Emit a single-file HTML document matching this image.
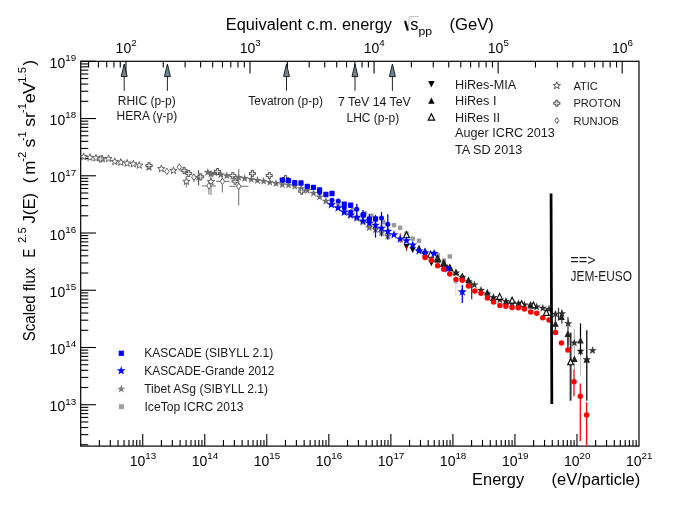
<!DOCTYPE html>
<html><head><meta charset="utf-8"><title>Cosmic ray spectrum</title>
<style>html,body{margin:0;padding:0;background:#fff;}body{width:673px;height:507px;overflow:hidden;font-family:"Liberation Sans",sans-serif;}svg{display:block;will-change:transform;}</style></head>
<body>
<svg width="673" height="507" viewBox="0 0 673 507" font-family="Liberation Sans, sans-serif">
<rect x="0" y="0" width="673" height="507" fill="#fff"/>
<rect x="80.7" y="61.3" width="558.3" height="384.8" fill="none" stroke="#000" stroke-width="1.2"/>
<line x1="99.37" y1="446.1" x2="99.37" y2="439.9" stroke="#000" stroke-width="1.1" />
<line x1="110.3" y1="446.1" x2="110.3" y2="439.9" stroke="#000" stroke-width="1.1" />
<line x1="118.05" y1="446.1" x2="118.05" y2="439.9" stroke="#000" stroke-width="1.1" />
<line x1="124.06" y1="446.1" x2="124.06" y2="439.9" stroke="#000" stroke-width="1.1" />
<line x1="128.97" y1="446.1" x2="128.97" y2="439.9" stroke="#000" stroke-width="1.1" />
<line x1="133.12" y1="446.1" x2="133.12" y2="439.9" stroke="#000" stroke-width="1.1" />
<line x1="136.72" y1="446.1" x2="136.72" y2="439.9" stroke="#000" stroke-width="1.1" />
<line x1="139.89" y1="446.1" x2="139.89" y2="439.9" stroke="#000" stroke-width="1.1" />
<line x1="142.73" y1="446.1" x2="142.73" y2="433.9" stroke="#000" stroke-width="1.1" />
<line x1="161.41" y1="446.1" x2="161.41" y2="439.9" stroke="#000" stroke-width="1.1" />
<line x1="172.33" y1="446.1" x2="172.33" y2="439.9" stroke="#000" stroke-width="1.1" />
<line x1="180.08" y1="446.1" x2="180.08" y2="439.9" stroke="#000" stroke-width="1.1" />
<line x1="186.09" y1="446.1" x2="186.09" y2="439.9" stroke="#000" stroke-width="1.1" />
<line x1="191" y1="446.1" x2="191" y2="439.9" stroke="#000" stroke-width="1.1" />
<line x1="195.16" y1="446.1" x2="195.16" y2="439.9" stroke="#000" stroke-width="1.1" />
<line x1="198.76" y1="446.1" x2="198.76" y2="439.9" stroke="#000" stroke-width="1.1" />
<line x1="201.93" y1="446.1" x2="201.93" y2="439.9" stroke="#000" stroke-width="1.1" />
<line x1="204.77" y1="446.1" x2="204.77" y2="433.9" stroke="#000" stroke-width="1.1" />
<line x1="223.44" y1="446.1" x2="223.44" y2="439.9" stroke="#000" stroke-width="1.1" />
<line x1="234.36" y1="446.1" x2="234.36" y2="439.9" stroke="#000" stroke-width="1.1" />
<line x1="242.11" y1="446.1" x2="242.11" y2="439.9" stroke="#000" stroke-width="1.1" />
<line x1="248.13" y1="446.1" x2="248.13" y2="439.9" stroke="#000" stroke-width="1.1" />
<line x1="253.04" y1="446.1" x2="253.04" y2="439.9" stroke="#000" stroke-width="1.1" />
<line x1="257.19" y1="446.1" x2="257.19" y2="439.9" stroke="#000" stroke-width="1.1" />
<line x1="260.79" y1="446.1" x2="260.79" y2="439.9" stroke="#000" stroke-width="1.1" />
<line x1="263.96" y1="446.1" x2="263.96" y2="439.9" stroke="#000" stroke-width="1.1" />
<line x1="266.8" y1="446.1" x2="266.8" y2="433.9" stroke="#000" stroke-width="1.1" />
<line x1="285.47" y1="446.1" x2="285.47" y2="439.9" stroke="#000" stroke-width="1.1" />
<line x1="296.4" y1="446.1" x2="296.4" y2="439.9" stroke="#000" stroke-width="1.1" />
<line x1="304.15" y1="446.1" x2="304.15" y2="439.9" stroke="#000" stroke-width="1.1" />
<line x1="310.16" y1="446.1" x2="310.16" y2="439.9" stroke="#000" stroke-width="1.1" />
<line x1="315.07" y1="446.1" x2="315.07" y2="439.9" stroke="#000" stroke-width="1.1" />
<line x1="319.22" y1="446.1" x2="319.22" y2="439.9" stroke="#000" stroke-width="1.1" />
<line x1="322.82" y1="446.1" x2="322.82" y2="439.9" stroke="#000" stroke-width="1.1" />
<line x1="325.99" y1="446.1" x2="325.99" y2="439.9" stroke="#000" stroke-width="1.1" />
<line x1="328.83" y1="446.1" x2="328.83" y2="433.9" stroke="#000" stroke-width="1.1" />
<line x1="347.51" y1="446.1" x2="347.51" y2="439.9" stroke="#000" stroke-width="1.1" />
<line x1="358.43" y1="446.1" x2="358.43" y2="439.9" stroke="#000" stroke-width="1.1" />
<line x1="366.18" y1="446.1" x2="366.18" y2="439.9" stroke="#000" stroke-width="1.1" />
<line x1="372.19" y1="446.1" x2="372.19" y2="439.9" stroke="#000" stroke-width="1.1" />
<line x1="377.1" y1="446.1" x2="377.1" y2="439.9" stroke="#000" stroke-width="1.1" />
<line x1="381.26" y1="446.1" x2="381.26" y2="439.9" stroke="#000" stroke-width="1.1" />
<line x1="384.86" y1="446.1" x2="384.86" y2="439.9" stroke="#000" stroke-width="1.1" />
<line x1="388.03" y1="446.1" x2="388.03" y2="439.9" stroke="#000" stroke-width="1.1" />
<line x1="390.87" y1="446.1" x2="390.87" y2="433.9" stroke="#000" stroke-width="1.1" />
<line x1="409.54" y1="446.1" x2="409.54" y2="439.9" stroke="#000" stroke-width="1.1" />
<line x1="420.46" y1="446.1" x2="420.46" y2="439.9" stroke="#000" stroke-width="1.1" />
<line x1="428.21" y1="446.1" x2="428.21" y2="439.9" stroke="#000" stroke-width="1.1" />
<line x1="434.23" y1="446.1" x2="434.23" y2="439.9" stroke="#000" stroke-width="1.1" />
<line x1="439.14" y1="446.1" x2="439.14" y2="439.9" stroke="#000" stroke-width="1.1" />
<line x1="443.29" y1="446.1" x2="443.29" y2="439.9" stroke="#000" stroke-width="1.1" />
<line x1="446.89" y1="446.1" x2="446.89" y2="439.9" stroke="#000" stroke-width="1.1" />
<line x1="450.06" y1="446.1" x2="450.06" y2="439.9" stroke="#000" stroke-width="1.1" />
<line x1="452.9" y1="446.1" x2="452.9" y2="433.9" stroke="#000" stroke-width="1.1" />
<line x1="471.57" y1="446.1" x2="471.57" y2="439.9" stroke="#000" stroke-width="1.1" />
<line x1="482.5" y1="446.1" x2="482.5" y2="439.9" stroke="#000" stroke-width="1.1" />
<line x1="490.25" y1="446.1" x2="490.25" y2="439.9" stroke="#000" stroke-width="1.1" />
<line x1="496.26" y1="446.1" x2="496.26" y2="439.9" stroke="#000" stroke-width="1.1" />
<line x1="501.17" y1="446.1" x2="501.17" y2="439.9" stroke="#000" stroke-width="1.1" />
<line x1="505.32" y1="446.1" x2="505.32" y2="439.9" stroke="#000" stroke-width="1.1" />
<line x1="508.92" y1="446.1" x2="508.92" y2="439.9" stroke="#000" stroke-width="1.1" />
<line x1="512.09" y1="446.1" x2="512.09" y2="439.9" stroke="#000" stroke-width="1.1" />
<line x1="514.93" y1="446.1" x2="514.93" y2="433.9" stroke="#000" stroke-width="1.1" />
<line x1="533.61" y1="446.1" x2="533.61" y2="439.9" stroke="#000" stroke-width="1.1" />
<line x1="544.53" y1="446.1" x2="544.53" y2="439.9" stroke="#000" stroke-width="1.1" />
<line x1="552.28" y1="446.1" x2="552.28" y2="439.9" stroke="#000" stroke-width="1.1" />
<line x1="558.29" y1="446.1" x2="558.29" y2="439.9" stroke="#000" stroke-width="1.1" />
<line x1="563.2" y1="446.1" x2="563.2" y2="439.9" stroke="#000" stroke-width="1.1" />
<line x1="567.36" y1="446.1" x2="567.36" y2="439.9" stroke="#000" stroke-width="1.1" />
<line x1="570.96" y1="446.1" x2="570.96" y2="439.9" stroke="#000" stroke-width="1.1" />
<line x1="574.13" y1="446.1" x2="574.13" y2="439.9" stroke="#000" stroke-width="1.1" />
<line x1="576.97" y1="446.1" x2="576.97" y2="433.9" stroke="#000" stroke-width="1.1" />
<line x1="595.64" y1="446.1" x2="595.64" y2="439.9" stroke="#000" stroke-width="1.1" />
<line x1="606.56" y1="446.1" x2="606.56" y2="439.9" stroke="#000" stroke-width="1.1" />
<line x1="614.31" y1="446.1" x2="614.31" y2="439.9" stroke="#000" stroke-width="1.1" />
<line x1="620.33" y1="446.1" x2="620.33" y2="439.9" stroke="#000" stroke-width="1.1" />
<line x1="625.24" y1="446.1" x2="625.24" y2="439.9" stroke="#000" stroke-width="1.1" />
<line x1="629.39" y1="446.1" x2="629.39" y2="439.9" stroke="#000" stroke-width="1.1" />
<line x1="632.99" y1="446.1" x2="632.99" y2="439.9" stroke="#000" stroke-width="1.1" />
<line x1="636.16" y1="446.1" x2="636.16" y2="439.9" stroke="#000" stroke-width="1.1" />
<line x1="80.7" y1="444.75" x2="88.3" y2="444.75" stroke="#000" stroke-width="1.1" />
<line x1="80.7" y1="434.67" x2="88.3" y2="434.67" stroke="#000" stroke-width="1.1" />
<line x1="80.7" y1="427.52" x2="88.3" y2="427.52" stroke="#000" stroke-width="1.1" />
<line x1="80.7" y1="421.97" x2="88.3" y2="421.97" stroke="#000" stroke-width="1.1" />
<line x1="80.7" y1="417.44" x2="88.3" y2="417.44" stroke="#000" stroke-width="1.1" />
<line x1="80.7" y1="413.61" x2="88.3" y2="413.61" stroke="#000" stroke-width="1.1" />
<line x1="80.7" y1="410.29" x2="88.3" y2="410.29" stroke="#000" stroke-width="1.1" />
<line x1="80.7" y1="407.36" x2="88.3" y2="407.36" stroke="#000" stroke-width="1.1" />
<line x1="80.7" y1="404.74" x2="96" y2="404.74" stroke="#000" stroke-width="1.1" />
<line x1="80.7" y1="387.51" x2="88.3" y2="387.51" stroke="#000" stroke-width="1.1" />
<line x1="80.7" y1="377.43" x2="88.3" y2="377.43" stroke="#000" stroke-width="1.1" />
<line x1="80.7" y1="370.28" x2="88.3" y2="370.28" stroke="#000" stroke-width="1.1" />
<line x1="80.7" y1="364.73" x2="88.3" y2="364.73" stroke="#000" stroke-width="1.1" />
<line x1="80.7" y1="360.2" x2="88.3" y2="360.2" stroke="#000" stroke-width="1.1" />
<line x1="80.7" y1="356.37" x2="88.3" y2="356.37" stroke="#000" stroke-width="1.1" />
<line x1="80.7" y1="353.05" x2="88.3" y2="353.05" stroke="#000" stroke-width="1.1" />
<line x1="80.7" y1="350.12" x2="88.3" y2="350.12" stroke="#000" stroke-width="1.1" />
<line x1="80.7" y1="347.5" x2="96" y2="347.5" stroke="#000" stroke-width="1.1" />
<line x1="80.7" y1="330.27" x2="88.3" y2="330.27" stroke="#000" stroke-width="1.1" />
<line x1="80.7" y1="320.19" x2="88.3" y2="320.19" stroke="#000" stroke-width="1.1" />
<line x1="80.7" y1="313.04" x2="88.3" y2="313.04" stroke="#000" stroke-width="1.1" />
<line x1="80.7" y1="307.49" x2="88.3" y2="307.49" stroke="#000" stroke-width="1.1" />
<line x1="80.7" y1="302.96" x2="88.3" y2="302.96" stroke="#000" stroke-width="1.1" />
<line x1="80.7" y1="299.13" x2="88.3" y2="299.13" stroke="#000" stroke-width="1.1" />
<line x1="80.7" y1="295.81" x2="88.3" y2="295.81" stroke="#000" stroke-width="1.1" />
<line x1="80.7" y1="292.88" x2="88.3" y2="292.88" stroke="#000" stroke-width="1.1" />
<line x1="80.7" y1="290.26" x2="96" y2="290.26" stroke="#000" stroke-width="1.1" />
<line x1="80.7" y1="273.03" x2="88.3" y2="273.03" stroke="#000" stroke-width="1.1" />
<line x1="80.7" y1="262.95" x2="88.3" y2="262.95" stroke="#000" stroke-width="1.1" />
<line x1="80.7" y1="255.8" x2="88.3" y2="255.8" stroke="#000" stroke-width="1.1" />
<line x1="80.7" y1="250.25" x2="88.3" y2="250.25" stroke="#000" stroke-width="1.1" />
<line x1="80.7" y1="245.72" x2="88.3" y2="245.72" stroke="#000" stroke-width="1.1" />
<line x1="80.7" y1="241.89" x2="88.3" y2="241.89" stroke="#000" stroke-width="1.1" />
<line x1="80.7" y1="238.57" x2="88.3" y2="238.57" stroke="#000" stroke-width="1.1" />
<line x1="80.7" y1="235.64" x2="88.3" y2="235.64" stroke="#000" stroke-width="1.1" />
<line x1="80.7" y1="233.02" x2="96" y2="233.02" stroke="#000" stroke-width="1.1" />
<line x1="80.7" y1="215.79" x2="88.3" y2="215.79" stroke="#000" stroke-width="1.1" />
<line x1="80.7" y1="205.71" x2="88.3" y2="205.71" stroke="#000" stroke-width="1.1" />
<line x1="80.7" y1="198.56" x2="88.3" y2="198.56" stroke="#000" stroke-width="1.1" />
<line x1="80.7" y1="193.01" x2="88.3" y2="193.01" stroke="#000" stroke-width="1.1" />
<line x1="80.7" y1="188.48" x2="88.3" y2="188.48" stroke="#000" stroke-width="1.1" />
<line x1="80.7" y1="184.65" x2="88.3" y2="184.65" stroke="#000" stroke-width="1.1" />
<line x1="80.7" y1="181.33" x2="88.3" y2="181.33" stroke="#000" stroke-width="1.1" />
<line x1="80.7" y1="178.4" x2="88.3" y2="178.4" stroke="#000" stroke-width="1.1" />
<line x1="80.7" y1="175.78" x2="96" y2="175.78" stroke="#000" stroke-width="1.1" />
<line x1="80.7" y1="158.55" x2="88.3" y2="158.55" stroke="#000" stroke-width="1.1" />
<line x1="80.7" y1="148.47" x2="88.3" y2="148.47" stroke="#000" stroke-width="1.1" />
<line x1="80.7" y1="141.32" x2="88.3" y2="141.32" stroke="#000" stroke-width="1.1" />
<line x1="80.7" y1="135.77" x2="88.3" y2="135.77" stroke="#000" stroke-width="1.1" />
<line x1="80.7" y1="131.24" x2="88.3" y2="131.24" stroke="#000" stroke-width="1.1" />
<line x1="80.7" y1="127.41" x2="88.3" y2="127.41" stroke="#000" stroke-width="1.1" />
<line x1="80.7" y1="124.09" x2="88.3" y2="124.09" stroke="#000" stroke-width="1.1" />
<line x1="80.7" y1="121.16" x2="88.3" y2="121.16" stroke="#000" stroke-width="1.1" />
<line x1="80.7" y1="118.54" x2="96" y2="118.54" stroke="#000" stroke-width="1.1" />
<line x1="80.7" y1="101.31" x2="88.3" y2="101.31" stroke="#000" stroke-width="1.1" />
<line x1="80.7" y1="91.23" x2="88.3" y2="91.23" stroke="#000" stroke-width="1.1" />
<line x1="80.7" y1="84.08" x2="88.3" y2="84.08" stroke="#000" stroke-width="1.1" />
<line x1="80.7" y1="78.53" x2="88.3" y2="78.53" stroke="#000" stroke-width="1.1" />
<line x1="80.7" y1="74" x2="88.3" y2="74" stroke="#000" stroke-width="1.1" />
<line x1="80.7" y1="70.17" x2="88.3" y2="70.17" stroke="#000" stroke-width="1.1" />
<line x1="80.7" y1="66.85" x2="88.3" y2="66.85" stroke="#000" stroke-width="1.1" />
<line x1="80.7" y1="63.92" x2="88.3" y2="63.92" stroke="#000" stroke-width="1.1" />
<line x1="80.7" y1="61.3" x2="96" y2="61.3" stroke="#000" stroke-width="1.1" />
<line x1="88.59" y1="61.3" x2="88.59" y2="67.5" stroke="#000" stroke-width="1.1" />
<line x1="98.41" y1="61.3" x2="98.41" y2="67.5" stroke="#000" stroke-width="1.1" />
<line x1="106.72" y1="61.3" x2="106.72" y2="67.5" stroke="#000" stroke-width="1.1" />
<line x1="113.91" y1="61.3" x2="113.91" y2="67.5" stroke="#000" stroke-width="1.1" />
<line x1="120.26" y1="61.3" x2="120.26" y2="67.5" stroke="#000" stroke-width="1.1" />
<line x1="125.93" y1="61.3" x2="125.93" y2="73.5" stroke="#000" stroke-width="1.1" />
<line x1="163.28" y1="61.3" x2="163.28" y2="67.5" stroke="#000" stroke-width="1.1" />
<line x1="185.13" y1="61.3" x2="185.13" y2="67.5" stroke="#000" stroke-width="1.1" />
<line x1="200.63" y1="61.3" x2="200.63" y2="67.5" stroke="#000" stroke-width="1.1" />
<line x1="212.65" y1="61.3" x2="212.65" y2="67.5" stroke="#000" stroke-width="1.1" />
<line x1="222.48" y1="61.3" x2="222.48" y2="67.5" stroke="#000" stroke-width="1.1" />
<line x1="230.78" y1="61.3" x2="230.78" y2="67.5" stroke="#000" stroke-width="1.1" />
<line x1="237.98" y1="61.3" x2="237.98" y2="67.5" stroke="#000" stroke-width="1.1" />
<line x1="244.32" y1="61.3" x2="244.32" y2="67.5" stroke="#000" stroke-width="1.1" />
<line x1="250" y1="61.3" x2="250" y2="73.5" stroke="#000" stroke-width="1.1" />
<line x1="287.35" y1="61.3" x2="287.35" y2="67.5" stroke="#000" stroke-width="1.1" />
<line x1="309.19" y1="61.3" x2="309.19" y2="67.5" stroke="#000" stroke-width="1.1" />
<line x1="324.7" y1="61.3" x2="324.7" y2="67.5" stroke="#000" stroke-width="1.1" />
<line x1="336.72" y1="61.3" x2="336.72" y2="67.5" stroke="#000" stroke-width="1.1" />
<line x1="346.54" y1="61.3" x2="346.54" y2="67.5" stroke="#000" stroke-width="1.1" />
<line x1="354.85" y1="61.3" x2="354.85" y2="67.5" stroke="#000" stroke-width="1.1" />
<line x1="362.04" y1="61.3" x2="362.04" y2="67.5" stroke="#000" stroke-width="1.1" />
<line x1="368.39" y1="61.3" x2="368.39" y2="67.5" stroke="#000" stroke-width="1.1" />
<line x1="374.07" y1="61.3" x2="374.07" y2="73.5" stroke="#000" stroke-width="1.1" />
<line x1="411.41" y1="61.3" x2="411.41" y2="67.5" stroke="#000" stroke-width="1.1" />
<line x1="433.26" y1="61.3" x2="433.26" y2="67.5" stroke="#000" stroke-width="1.1" />
<line x1="448.76" y1="61.3" x2="448.76" y2="67.5" stroke="#000" stroke-width="1.1" />
<line x1="460.79" y1="61.3" x2="460.79" y2="67.5" stroke="#000" stroke-width="1.1" />
<line x1="470.61" y1="61.3" x2="470.61" y2="67.5" stroke="#000" stroke-width="1.1" />
<line x1="478.92" y1="61.3" x2="478.92" y2="67.5" stroke="#000" stroke-width="1.1" />
<line x1="486.11" y1="61.3" x2="486.11" y2="67.5" stroke="#000" stroke-width="1.1" />
<line x1="492.46" y1="61.3" x2="492.46" y2="67.5" stroke="#000" stroke-width="1.1" />
<line x1="498.13" y1="61.3" x2="498.13" y2="73.5" stroke="#000" stroke-width="1.1" />
<line x1="535.48" y1="61.3" x2="535.48" y2="67.5" stroke="#000" stroke-width="1.1" />
<line x1="557.33" y1="61.3" x2="557.33" y2="67.5" stroke="#000" stroke-width="1.1" />
<line x1="572.83" y1="61.3" x2="572.83" y2="67.5" stroke="#000" stroke-width="1.1" />
<line x1="584.85" y1="61.3" x2="584.85" y2="67.5" stroke="#000" stroke-width="1.1" />
<line x1="594.68" y1="61.3" x2="594.68" y2="67.5" stroke="#000" stroke-width="1.1" />
<line x1="602.98" y1="61.3" x2="602.98" y2="67.5" stroke="#000" stroke-width="1.1" />
<line x1="610.18" y1="61.3" x2="610.18" y2="67.5" stroke="#000" stroke-width="1.1" />
<line x1="616.52" y1="61.3" x2="616.52" y2="67.5" stroke="#000" stroke-width="1.1" />
<line x1="622.2" y1="61.3" x2="622.2" y2="73.5" stroke="#000" stroke-width="1.1" />
<line x1="186.4" y1="176" x2="186.4" y2="187.2" stroke="#6e6e6e" stroke-width="0.9" />
<line x1="211" y1="176.5" x2="211" y2="195.2" stroke="#6e6e6e" stroke-width="0.9" />
<polygon points="83.7,152.9 84.59,155.47 87.31,155.53 85.15,157.17 85.93,159.78 83.7,158.22 81.47,159.78 82.25,157.17 80.09,155.53 82.81,155.47" fill="#fff" stroke="#5c5c5c" stroke-width="0.95"/>
<polygon points="90,153.7 90.89,156.27 93.61,156.33 91.45,157.97 92.23,160.58 90,159.02 87.77,160.58 88.55,157.97 86.39,156.33 89.11,156.27" fill="#fff" stroke="#5c5c5c" stroke-width="0.95"/>
<polygon points="96,154.3 96.89,156.87 99.61,156.93 97.45,158.57 98.23,161.18 96,159.62 93.77,161.18 94.55,158.57 92.39,156.93 95.11,156.87" fill="#fff" stroke="#5c5c5c" stroke-width="0.95"/>
<polygon points="102.3,155.1 103.19,157.67 105.91,157.73 103.75,159.37 104.53,161.98 102.3,160.42 100.07,161.98 100.85,159.37 98.69,157.73 101.41,157.67" fill="#fff" stroke="#5c5c5c" stroke-width="0.95"/>
<polygon points="108.5,154.9 109.39,157.47 112.11,157.53 109.95,159.17 110.73,161.78 108.5,160.22 106.27,161.78 107.05,159.17 104.89,157.53 107.61,157.47" fill="#fff" stroke="#5c5c5c" stroke-width="0.95"/>
<polygon points="114.8,157.8 115.69,160.37 118.41,160.43 116.25,162.07 117.03,164.68 114.8,163.12 112.57,164.68 113.35,162.07 111.19,160.43 113.91,160.37" fill="#fff" stroke="#5c5c5c" stroke-width="0.95"/>
<polygon points="120.8,158.6 121.69,161.17 124.41,161.23 122.25,162.87 123.03,165.48 120.8,163.92 118.57,165.48 119.35,162.87 117.19,161.23 119.91,161.17" fill="#fff" stroke="#5c5c5c" stroke-width="0.95"/>
<polygon points="127.1,159.5 127.99,162.07 130.71,162.13 128.55,163.77 129.33,166.38 127.1,164.82 124.87,166.38 125.65,163.77 123.49,162.13 126.21,162.07" fill="#fff" stroke="#5c5c5c" stroke-width="0.95"/>
<polygon points="133.3,160.2 134.19,162.77 136.91,162.83 134.75,164.47 135.53,167.08 133.3,165.52 131.07,167.08 131.85,164.47 129.69,162.83 132.41,162.77" fill="#fff" stroke="#5c5c5c" stroke-width="0.95"/>
<polygon points="139.3,161.5 140.19,164.07 142.91,164.13 140.75,165.77 141.53,168.38 139.3,166.82 137.07,168.38 137.85,165.77 135.69,164.13 138.41,164.07" fill="#fff" stroke="#5c5c5c" stroke-width="0.95"/>
<polygon points="149,163.4 149.89,165.97 152.61,166.03 150.45,167.67 151.23,170.28 149,168.72 146.77,170.28 147.55,167.67 145.39,166.03 148.11,165.97" fill="#fff" stroke="#5c5c5c" stroke-width="0.95"/>
<polygon points="161.3,165 162.19,167.57 164.91,167.63 162.75,169.27 163.53,171.88 161.3,170.32 159.07,171.88 159.85,169.27 157.69,167.63 160.41,167.57" fill="#fff" stroke="#5c5c5c" stroke-width="0.95"/>
<polygon points="173.4,166.8 174.29,169.37 177.01,169.43 174.85,171.07 175.63,173.68 173.4,172.12 171.17,173.68 171.95,171.07 169.79,169.43 172.51,169.37" fill="#fff" stroke="#5c5c5c" stroke-width="0.95"/>
<polygon points="186.4,177.7 187.29,180.27 190.01,180.33 187.85,181.97 188.63,184.58 186.4,183.02 184.17,184.58 184.95,181.97 182.79,180.33 185.51,180.27" fill="#fff" stroke="#5c5c5c" stroke-width="0.95"/>
<polygon points="211,177.9 211.89,180.47 214.61,180.53 212.45,182.17 213.23,184.78 211,183.22 208.77,184.78 209.55,182.17 207.39,180.53 210.11,180.47" fill="#fff" stroke="#5c5c5c" stroke-width="0.95"/>
<polygon points="166.8,168.1 169,171.4 166.8,174.7 164.6,171.4" fill="#fff" stroke="#5c5c5c" stroke-width="0.95"/>
<polygon points="179.3,163.8 181.5,167.1 179.3,170.4 177.1,167.1" fill="#fff" stroke="#5c5c5c" stroke-width="0.95"/>
<line x1="193.9" y1="174" x2="193.9" y2="182.1" stroke="#858585" stroke-width="1.2" />
<polygon points="193.9,173.9 196.1,177.2 193.9,180.5 191.7,177.2" fill="#fff" stroke="#5c5c5c" stroke-width="0.95"/>
<line x1="202.1" y1="185.9" x2="215.9" y2="185.9" stroke="#858585" stroke-width="1.2" />
<line x1="208.9" y1="182.1" x2="208.9" y2="194.6" stroke="#858585" stroke-width="1.2" />
<polygon points="208.9,182.6 211.1,185.9 208.9,189.2 206.7,185.9" fill="#fff" stroke="#5c5c5c" stroke-width="0.95"/>
<line x1="215.9" y1="181.4" x2="229.5" y2="181.4" stroke="#858585" stroke-width="1.2" />
<line x1="222.4" y1="175.6" x2="222.4" y2="192.4" stroke="#858585" stroke-width="1.2" />
<polygon points="222.4,178.1 224.6,181.4 222.4,184.7 220.2,181.4" fill="#fff" stroke="#5c5c5c" stroke-width="0.95"/>
<line x1="229.5" y1="186.3" x2="248.5" y2="186.3" stroke="#858585" stroke-width="1.2" />
<line x1="238.7" y1="169.1" x2="238.7" y2="205.5" stroke="#858585" stroke-width="1.2" />
<polygon points="238.7,183 240.9,186.3 238.7,189.6 236.5,186.3" fill="#fff" stroke="#5c5c5c" stroke-width="0.95"/>
<line x1="198.6" y1="170.2" x2="198.6" y2="185.2" stroke="#222" stroke-width="0.9" />
<polygon points="198.6,172.95 199.63,175.93 202.78,175.99 200.27,177.9 201.19,180.91 198.6,179.11 196.01,180.91 196.93,177.9 194.42,175.99 197.57,175.93" fill="#6e6e6e" stroke="none" stroke-width="0.8"/>
<polygon points="207.8,168.05 208.83,171.03 211.98,171.09 209.47,173 210.39,176.01 207.8,174.21 205.21,176.01 206.13,173 203.62,171.09 206.77,171.03" fill="#6e6e6e" stroke="none" stroke-width="0.8"/>
<polygon points="211,169.75 212.03,172.73 215.18,172.79 212.67,174.7 213.59,177.71 211,175.91 208.41,177.71 209.33,174.7 206.82,172.79 209.97,172.73" fill="#6e6e6e" stroke="none" stroke-width="0.8"/>
<polygon points="214.8,168.65 215.83,171.63 218.98,171.69 216.47,173.6 217.39,176.61 214.8,174.81 212.21,176.61 213.13,173.6 210.62,171.69 213.77,171.63" fill="#6e6e6e" stroke="none" stroke-width="0.8"/>
<polygon points="220.8,170.25 221.83,173.23 224.98,173.29 222.47,175.2 223.39,178.21 220.8,176.41 218.21,178.21 219.13,175.2 216.62,173.29 219.77,173.23" fill="#6e6e6e" stroke="none" stroke-width="0.8"/>
<polygon points="226.8,171.35 227.83,174.33 230.98,174.39 228.47,176.3 229.39,179.31 226.8,177.51 224.21,179.31 225.13,176.3 222.62,174.39 225.77,174.33" fill="#6e6e6e" stroke="none" stroke-width="0.8"/>
<polygon points="232.8,171.85 233.83,174.83 236.98,174.89 234.47,176.8 235.39,179.81 232.8,178.01 230.21,179.81 231.13,176.8 228.62,174.89 231.77,174.83" fill="#6e6e6e" stroke="none" stroke-width="0.8"/>
<polygon points="238.7,172.95 239.73,175.93 242.88,175.99 240.37,177.9 241.29,180.91 238.7,179.11 236.11,180.91 237.03,177.9 234.52,175.99 237.67,175.93" fill="#6e6e6e" stroke="none" stroke-width="0.8"/>
<polygon points="244.7,174.05 245.73,177.03 248.88,177.09 246.37,179 247.29,182.01 244.7,180.21 242.11,182.01 243.03,179 240.52,177.09 243.67,177.03" fill="#6e6e6e" stroke="none" stroke-width="0.8"/>
<polygon points="251.3,174.95 252.33,177.93 255.48,177.99 252.97,179.9 253.89,182.91 251.3,181.11 248.71,182.91 249.63,179.9 247.12,177.99 250.27,177.93" fill="#6e6e6e" stroke="none" stroke-width="0.8"/>
<polygon points="257.4,176.05 258.43,179.03 261.58,179.09 259.07,181 259.99,184.01 257.4,182.21 254.81,184.01 255.73,181 253.22,179.09 256.37,179.03" fill="#6e6e6e" stroke="none" stroke-width="0.8"/>
<polygon points="263.6,176.85 264.63,179.83 267.78,179.89 265.27,181.8 266.19,184.81 263.6,183.01 261.01,184.81 261.93,181.8 259.42,179.89 262.57,179.83" fill="#6e6e6e" stroke="none" stroke-width="0.8"/>
<polygon points="269.8,177.95 270.83,180.93 273.98,180.99 271.47,182.9 272.39,185.91 269.8,184.11 267.21,185.91 268.13,182.9 265.62,180.99 268.77,180.93" fill="#6e6e6e" stroke="none" stroke-width="0.8"/>
<polygon points="276,179.05 277.03,182.03 280.18,182.09 277.67,184 278.59,187.01 276,185.21 273.41,187.01 274.33,184 271.82,182.09 274.97,182.03" fill="#6e6e6e" stroke="none" stroke-width="0.8"/>
<polygon points="282.3,180.35 283.33,183.33 286.48,183.39 283.97,185.3 284.89,188.31 282.3,186.51 279.71,188.31 280.63,185.3 278.12,183.39 281.27,183.33" fill="#6e6e6e" stroke="none" stroke-width="0.8"/>
<polygon points="288.5,180.65 289.53,183.63 292.68,183.69 290.17,185.6 291.09,188.61 288.5,186.81 285.91,188.61 286.83,185.6 284.32,183.69 287.47,183.63" fill="#6e6e6e" stroke="none" stroke-width="0.8"/>
<polygon points="294.7,181.75 295.73,184.73 298.88,184.79 296.37,186.7 297.29,189.71 294.7,187.91 292.11,189.71 293.03,186.7 290.52,184.79 293.67,184.73" fill="#6e6e6e" stroke="none" stroke-width="0.8"/>
<polygon points="301,184.25 302.03,187.23 305.18,187.29 302.67,189.2 303.59,192.21 301,190.41 298.41,192.21 299.33,189.2 296.82,187.29 299.97,187.23" fill="#6e6e6e" stroke="none" stroke-width="0.8"/>
<polygon points="307.3,186.05 308.33,189.03 311.48,189.09 308.97,191 309.89,194.01 307.3,192.21 304.71,194.01 305.63,191 303.12,189.09 306.27,189.03" fill="#6e6e6e" stroke="none" stroke-width="0.8"/>
<polygon points="313.5,188.85 314.53,191.83 317.68,191.89 315.17,193.8 316.09,196.81 313.5,195.01 310.91,196.81 311.83,193.8 309.32,191.89 312.47,191.83" fill="#6e6e6e" stroke="none" stroke-width="0.8"/>
<polygon points="319.6,192.55 320.63,195.53 323.78,195.59 321.27,197.5 322.19,200.51 319.6,198.71 317.01,200.51 317.93,197.5 315.42,195.59 318.57,195.53" fill="#6e6e6e" stroke="none" stroke-width="0.8"/>
<polygon points="325.9,196.75 326.93,199.73 330.08,199.79 327.57,201.7 328.49,204.71 325.9,202.91 323.31,204.71 324.23,201.7 321.72,199.79 324.87,199.73" fill="#6e6e6e" stroke="none" stroke-width="0.8"/>
<polygon points="332,199.75 333.03,202.73 336.18,202.79 333.67,204.7 334.59,207.71 332,205.91 329.41,207.71 330.33,204.7 327.82,202.79 330.97,202.73" fill="#6e6e6e" stroke="none" stroke-width="0.8"/>
<polygon points="338.3,203.25 339.33,206.23 342.48,206.29 339.97,208.2 340.89,211.21 338.3,209.41 335.71,211.21 336.63,208.2 334.12,206.29 337.27,206.23" fill="#6e6e6e" stroke="none" stroke-width="0.8"/>
<polygon points="344.3,207.25 345.33,210.23 348.48,210.29 345.97,212.2 346.89,215.21 344.3,213.41 341.71,215.21 342.63,212.2 340.12,210.29 343.27,210.23" fill="#6e6e6e" stroke="none" stroke-width="0.8"/>
<polygon points="350.6,210.75 351.63,213.73 354.78,213.79 352.27,215.7 353.19,218.71 350.6,216.91 348.01,218.71 348.93,215.7 346.42,213.79 349.57,213.73" fill="#6e6e6e" stroke="none" stroke-width="0.8"/>
<polygon points="356.8,214.05 357.83,217.03 360.98,217.09 358.47,219 359.39,222.01 356.8,220.21 354.21,222.01 355.13,219 352.62,217.09 355.77,217.03" fill="#6e6e6e" stroke="none" stroke-width="0.8"/>
<polygon points="363,217.75 364.03,220.73 367.18,220.79 364.67,222.7 365.59,225.71 363,223.91 360.41,225.71 361.33,222.7 358.82,220.79 361.97,220.73" fill="#6e6e6e" stroke="none" stroke-width="0.8"/>
<polygon points="369.3,223.35 370.33,226.33 373.48,226.39 370.97,228.3 371.89,231.31 369.3,229.51 366.71,231.31 367.63,228.3 365.12,226.39 368.27,226.33" fill="#6e6e6e" stroke="none" stroke-width="0.8"/>
<polygon points="375.5,225.25 376.53,228.23 379.68,228.29 377.17,230.2 378.09,233.21 375.5,231.41 372.91,233.21 373.83,230.2 371.32,228.29 374.47,228.23" fill="#6e6e6e" stroke="none" stroke-width="0.8"/>
<polygon points="381.5,228.25 382.53,231.23 385.68,231.29 383.17,233.2 384.09,236.21 381.5,234.41 378.91,236.21 379.83,233.2 377.32,231.29 380.47,231.23" fill="#6e6e6e" stroke="none" stroke-width="0.8"/>
<polygon points="387.8,231.75 388.83,234.73 391.98,234.79 389.47,236.7 390.39,239.71 387.8,237.91 385.21,239.71 386.13,236.7 383.62,234.79 386.77,234.73" fill="#6e6e6e" stroke="none" stroke-width="0.8"/>
<polygon points="99.74,156.05 101.66,156.05 101.66,158.04 103.65,158.04 103.65,159.96 101.66,159.96 101.66,161.95 99.74,161.95 99.74,159.96 97.75,159.96 97.75,158.04 99.74,158.04" fill="#fff" stroke="#606060" stroke-width="1.1"/>
<polygon points="148.04,162.55 149.96,162.55 149.96,164.54 151.95,164.54 151.95,166.46 149.96,166.46 149.96,168.45 148.04,168.45 148.04,166.46 146.05,166.46 146.05,164.54 148.04,164.54" fill="#fff" stroke="#606060" stroke-width="1.1"/>
<polygon points="183.14,167.65 185.06,167.65 185.06,169.64 187.05,169.64 187.05,171.56 185.06,171.56 185.06,173.55 183.14,173.55 183.14,171.56 181.15,171.56 181.15,169.64 183.14,169.64" fill="#fff" stroke="#606060" stroke-width="1.1"/>
<polygon points="187.74,170.55 189.66,170.55 189.66,172.54 191.65,172.54 191.65,174.46 189.66,174.46 189.66,176.45 187.74,176.45 187.74,174.46 185.75,174.46 185.75,172.54 187.74,172.54" fill="#fff" stroke="#606060" stroke-width="1.1"/>
<polygon points="199.74,173.85 201.66,173.85 201.66,175.84 203.65,175.84 203.65,177.76 201.66,177.76 201.66,179.75 199.74,179.75 199.74,177.76 197.75,177.76 197.75,175.84 199.74,175.84" fill="#fff" stroke="#606060" stroke-width="1.1"/>
<polygon points="216.64,168.65 218.56,168.65 218.56,170.64 220.55,170.64 220.55,172.56 218.56,172.56 218.56,174.55 216.64,174.55 216.64,172.56 214.65,172.56 214.65,170.64 216.64,170.64" fill="#fff" stroke="#606060" stroke-width="1.1"/>
<polygon points="231.84,172.55 233.76,172.55 233.76,174.54 235.75,174.54 235.75,176.46 233.76,176.46 233.76,178.45 231.84,178.45 231.84,176.46 229.85,176.46 229.85,174.54 231.84,174.54" fill="#fff" stroke="#606060" stroke-width="1.1"/>
<polygon points="234.14,178.35 236.06,178.35 236.06,180.34 238.05,180.34 238.05,182.26 236.06,182.26 236.06,184.25 234.14,184.25 234.14,182.26 232.15,182.26 232.15,180.34 234.14,180.34" fill="#fff" stroke="#606060" stroke-width="1.1"/>
<polygon points="251.44,170.45 253.36,170.45 253.36,172.44 255.35,172.44 255.35,174.36 253.36,174.36 253.36,176.35 251.44,176.35 251.44,174.36 249.45,174.36 249.45,172.44 251.44,172.44" fill="#fff" stroke="#606060" stroke-width="1.1"/>
<polygon points="268.34,172.55 270.26,172.55 270.26,174.54 272.25,174.54 272.25,176.46 270.26,176.46 270.26,178.45 268.34,178.45 268.34,176.46 266.35,176.46 266.35,174.54 268.34,174.54" fill="#fff" stroke="#606060" stroke-width="1.1"/>
<polygon points="284.64,175.65 286.56,175.65 286.56,177.64 288.55,177.64 288.55,179.56 286.56,179.56 286.56,181.55 284.64,181.55 284.64,179.56 282.65,179.56 282.65,177.64 284.64,177.64" fill="#fff" stroke="#606060" stroke-width="1.1"/>
<polygon points="300.64,188.25 302.56,188.25 302.56,190.24 304.55,190.24 304.55,192.16 302.56,192.16 302.56,194.15 300.64,194.15 300.64,192.16 298.65,192.16 298.65,190.24 300.64,190.24" fill="#fff" stroke="#606060" stroke-width="1.1"/>
<rect x="336.1" y="201.8" width="4.4" height="4.4" fill="#9a9a9a"/>
<rect x="350.8" y="207.5" width="4.4" height="4.4" fill="#9a9a9a"/>
<rect x="362.8" y="211.3" width="4.4" height="4.4" fill="#9a9a9a"/>
<rect x="369.2" y="213.5" width="4.4" height="4.4" fill="#9a9a9a"/>
<rect x="381.2" y="220" width="4.4" height="4.4" fill="#9a9a9a"/>
<rect x="391.8" y="222.9" width="4.4" height="4.4" fill="#9a9a9a"/>
<rect x="398" y="225.6" width="4.4" height="4.4" fill="#9a9a9a"/>
<rect x="404.3" y="231.3" width="4.4" height="4.4" fill="#9a9a9a"/>
<rect x="410.5" y="236.4" width="4.4" height="4.4" fill="#9a9a9a"/>
<rect x="416.8" y="238.6" width="4.4" height="4.4" fill="#9a9a9a"/>
<rect x="435.7" y="253" width="4.4" height="4.4" fill="#9a9a9a"/>
<rect x="441.7" y="258.4" width="4.4" height="4.4" fill="#9a9a9a"/>
<rect x="447.6" y="254.3" width="4.4" height="4.4" fill="#9a9a9a"/>
<line x1="455.8" y1="270" x2="455.8" y2="296" stroke="#dcdcdc" stroke-width="1" />
<rect x="453.7" y="279.7" width="4.2" height="4.2" fill="#c9c9c9"/>
<rect x="279.7" y="177.4" width="5.2" height="5.4" rx="0.8" fill="#0000ff"/>
<rect x="285.9" y="177.9" width="5.2" height="5.4" rx="0.8" fill="#0000ff"/>
<rect x="292.1" y="180.1" width="5.2" height="5.4" rx="0.8" fill="#0000ff"/>
<rect x="298.4" y="180.3" width="5.2" height="5.4" rx="0.8" fill="#0000ff"/>
<rect x="304.7" y="183.7" width="5.2" height="5.4" rx="0.8" fill="#0000ff"/>
<rect x="310.9" y="184.7" width="5.2" height="5.4" rx="0.8" fill="#0000ff"/>
<rect x="317" y="187.2" width="5.2" height="5.4" rx="0.8" fill="#0000ff"/>
<rect x="323.3" y="191.8" width="5.2" height="5.4" rx="0.8" fill="#0000ff"/>
<rect x="329.4" y="190.8" width="5.2" height="5.4" rx="0.8" fill="#0000ff"/>
<rect x="341.7" y="201.6" width="5.2" height="5.4" rx="0.8" fill="#0000ff"/>
<rect x="348" y="202.5" width="5.2" height="5.4" rx="0.8" fill="#0000ff"/>
<rect x="360.7" y="212.3" width="5.2" height="5.4" rx="0.8" fill="#0000ff"/>
<rect x="366.7" y="216.6" width="5.2" height="5.4" rx="0.8" fill="#0000ff"/>
<rect x="373" y="216.2" width="5.2" height="5.4" rx="0.8" fill="#0000ff"/>
<circle cx="319.6" cy="192.4" r="2.5" fill="#0000ff" stroke="none" stroke-width="0.8"/>
<circle cx="332" cy="200.2" r="2.5" fill="#0000ff" stroke="none" stroke-width="0.8"/>
<circle cx="338.3" cy="201" r="2.5" fill="#0000ff" stroke="none" stroke-width="0.8"/>
<circle cx="344.3" cy="208.1" r="2.5" fill="#0000ff" stroke="none" stroke-width="0.8"/>
<circle cx="350.6" cy="211.9" r="2.5" fill="#0000ff" stroke="none" stroke-width="0.8"/>
<line x1="356.8" y1="203.8" x2="356.8" y2="214.2" stroke="#0000ff" stroke-width="1.3" />
<circle cx="356.8" cy="209.2" r="2.5" fill="#0000ff" stroke="none" stroke-width="0.8"/>
<line x1="363" y1="210" x2="363" y2="219" stroke="#0000ff" stroke-width="1.3" />
<circle cx="363" cy="214.6" r="2.5" fill="#0000ff" stroke="none" stroke-width="0.8"/>
<line x1="369.3" y1="214" x2="369.3" y2="224" stroke="#0000ff" stroke-width="1.3" />
<circle cx="369.3" cy="219" r="2.5" fill="#0000ff" stroke="none" stroke-width="0.8"/>
<line x1="375.5" y1="214.8" x2="375.5" y2="237.6" stroke="#0000ff" stroke-width="1.3" />
<circle cx="375.5" cy="219.6" r="2.5" fill="#0000ff" stroke="none" stroke-width="0.8"/>
<line x1="381.5" y1="212" x2="381.5" y2="236.5" stroke="#0000ff" stroke-width="1.3" />
<circle cx="381.5" cy="218" r="2.5" fill="#0000ff" stroke="none" stroke-width="0.8"/>
<line x1="387.8" y1="214.2" x2="387.8" y2="239.7" stroke="#0000ff" stroke-width="1.3" />
<circle cx="387.8" cy="224.3" r="2.5" fill="#0000ff" stroke="none" stroke-width="0.8"/>
<polygon points="406.5,249.8 409.5,243.8 403.5,243.8" fill="#000000" stroke="none" stroke-width="0.9"/>
<polygon points="412.7,253 415.7,247 409.7,247" fill="#000000" stroke="none" stroke-width="0.9"/>
<polygon points="431.4,266.3 434.4,260.3 428.4,260.3" fill="#000000" stroke="none" stroke-width="0.9"/>
<line x1="400.2" y1="233.2" x2="400.2" y2="243" stroke="#d00000" stroke-width="0.9" />
<line x1="406.5" y1="246.2" x2="406.5" y2="251" stroke="#d00000" stroke-width="0.9" />
<line x1="574.3" y1="329" x2="574.3" y2="370" stroke="#9a9a9a" stroke-width="0.9" />
<line x1="567.9" y1="334" x2="567.9" y2="352" stroke="#444" stroke-width="1.5" />
<line x1="471.7" y1="281.5" x2="471.7" y2="299.3" stroke="#333" stroke-width="1.2" />
<line x1="555.4" y1="311" x2="555.4" y2="330" stroke="#333" stroke-width="1.2" />
<line x1="558.5" y1="307.8" x2="558.5" y2="320.7" stroke="#333" stroke-width="1.2" />
<line x1="561.9" y1="309.8" x2="561.9" y2="323.6" stroke="#333" stroke-width="1.2" />
<line x1="568" y1="317" x2="568" y2="345" stroke="#333" stroke-width="1.2" />
<polygon points="456,268.45 457.03,271.43 460.18,271.49 457.67,273.4 458.59,276.41 456,274.61 453.41,276.41 454.33,273.4 451.82,271.49 454.97,271.43" fill="#333333" stroke="none" stroke-width="0.8"/>
<polygon points="462.3,272.75 463.33,275.73 466.48,275.79 463.97,277.7 464.89,280.71 462.3,278.91 459.71,280.71 460.63,277.7 458.12,275.79 461.27,275.73" fill="#333333" stroke="none" stroke-width="0.8"/>
<polygon points="468.5,277.25 469.53,280.23 472.68,280.29 470.17,282.2 471.09,285.21 468.5,283.41 465.91,285.21 466.83,282.2 464.32,280.29 467.47,280.23" fill="#333333" stroke="none" stroke-width="0.8"/>
<polygon points="474.3,280.45 475.33,283.43 478.48,283.49 475.97,285.4 476.89,288.41 474.3,286.61 471.71,288.41 472.63,285.4 470.12,283.49 473.27,283.43" fill="#333333" stroke="none" stroke-width="0.8"/>
<polygon points="481,285.85 482.03,288.83 485.18,288.89 482.67,290.8 483.59,293.81 481,292.01 478.41,293.81 479.33,290.8 476.82,288.89 479.97,288.83" fill="#333333" stroke="none" stroke-width="0.8"/>
<polygon points="487.4,289.45 488.43,292.43 491.58,292.49 489.07,294.4 489.99,297.41 487.4,295.61 484.81,297.41 485.73,294.4 483.22,292.49 486.37,292.43" fill="#333333" stroke="none" stroke-width="0.8"/>
<polygon points="493.6,292.95 494.63,295.93 497.78,295.99 495.27,297.9 496.19,300.91 493.6,299.11 491.01,300.91 491.93,297.9 489.42,295.99 492.57,295.93" fill="#333333" stroke="none" stroke-width="0.8"/>
<polygon points="499.9,295.45 500.93,298.43 504.08,298.49 501.57,300.4 502.49,303.41 499.9,301.61 497.31,303.41 498.23,300.4 495.72,298.49 498.87,298.43" fill="#333333" stroke="none" stroke-width="0.8"/>
<polygon points="505.9,296.95 506.93,299.93 510.08,299.99 507.57,301.9 508.49,304.91 505.9,303.11 503.31,304.91 504.23,301.9 501.72,299.99 504.87,299.93" fill="#333333" stroke="none" stroke-width="0.8"/>
<polygon points="512.1,298.45 513.13,301.43 516.28,301.49 513.77,303.4 514.69,306.41 512.1,304.61 509.51,306.41 510.43,303.4 507.92,301.49 511.07,301.43" fill="#333333" stroke="none" stroke-width="0.8"/>
<polygon points="518.4,299.45 519.43,302.43 522.58,302.49 520.07,304.4 520.99,307.41 518.4,305.61 515.81,307.41 516.73,304.4 514.22,302.49 517.37,302.43" fill="#333333" stroke="none" stroke-width="0.8"/>
<polygon points="524.4,300.45 525.43,303.43 528.58,303.49 526.07,305.4 526.99,308.41 524.4,306.61 521.81,308.41 522.73,305.4 520.22,303.49 523.37,303.43" fill="#333333" stroke="none" stroke-width="0.8"/>
<polygon points="530.7,301.45 531.73,304.43 534.88,304.49 532.37,306.4 533.29,309.41 530.7,307.61 528.11,309.41 529.03,306.4 526.52,304.49 529.67,304.43" fill="#333333" stroke="none" stroke-width="0.8"/>
<polygon points="536.6,302.55 537.63,305.53 540.78,305.59 538.27,307.5 539.19,310.51 536.6,308.71 534.01,310.51 534.93,307.5 532.42,305.59 535.57,305.53" fill="#333333" stroke="none" stroke-width="0.8"/>
<polygon points="542.8,303.75 543.83,306.73 546.98,306.79 544.47,308.7 545.39,311.71 542.8,309.91 540.21,311.71 541.13,308.7 538.62,306.79 541.77,306.73" fill="#333333" stroke="none" stroke-width="0.8"/>
<polygon points="549,304.85 550.03,307.83 553.18,307.89 550.67,309.8 551.59,312.81 549,311.01 546.41,312.81 547.33,309.8 544.82,307.89 547.97,307.83" fill="#333333" stroke="none" stroke-width="0.8"/>
<polygon points="555.5,309.65 556.53,312.63 559.68,312.69 557.17,314.6 558.09,317.61 555.5,315.81 552.91,317.61 553.83,314.6 551.32,312.69 554.47,312.63" fill="#333333" stroke="none" stroke-width="0.8"/>
<polygon points="561.9,309.25 562.93,312.23 566.08,312.29 563.57,314.2 564.49,317.21 561.9,315.41 559.31,317.21 560.23,314.2 557.72,312.29 560.87,312.23" fill="#333333" stroke="none" stroke-width="0.8"/>
<polygon points="568.2,319.15 569.23,322.13 572.38,322.19 569.87,324.1 570.79,327.11 568.2,325.31 565.61,327.11 566.53,324.1 564.02,322.19 567.17,322.13" fill="#333333" stroke="none" stroke-width="0.8"/>
<polygon points="574.3,338.45 575.33,341.43 578.48,341.49 575.97,343.4 576.89,346.41 574.3,344.61 571.71,346.41 572.63,343.4 570.12,341.49 573.27,341.43" fill="#333333" stroke="none" stroke-width="0.8"/>
<polygon points="580.5,346.75 581.53,349.73 584.68,349.79 582.17,351.7 583.09,354.71 580.5,352.91 577.91,354.71 578.83,351.7 576.32,349.79 579.47,349.73" fill="#333333" stroke="none" stroke-width="0.8"/>
<polygon points="586.8,355.25 587.83,358.23 590.98,358.29 588.47,360.2 589.39,363.21 586.8,361.41 584.21,363.21 585.13,360.2 582.62,358.29 585.77,358.23" fill="#333333" stroke="none" stroke-width="0.8"/>
<polygon points="592.6,346.15 593.63,349.13 596.78,349.19 594.27,351.1 595.19,354.11 592.6,352.31 590.01,354.11 590.93,351.1 588.42,349.19 591.57,349.13" fill="#333333" stroke="none" stroke-width="0.8"/>
<line x1="570.6" y1="332.5" x2="570.6" y2="400.7" stroke="#333" stroke-width="1.9" />
<polygon points="406.5,231.85 409.45,237.75 403.55,237.75" fill="#fff" stroke="#000000" stroke-width="1.1"/>
<polygon points="430.6,251.35 433.55,257.25 427.65,257.25" fill="#fff" stroke="#000000" stroke-width="1.1"/>
<polygon points="437.6,255.35 440.55,261.25 434.65,261.25" fill="#fff" stroke="#000000" stroke-width="1.1"/>
<polygon points="443.8,260.25 446.75,266.15 440.85,266.15" fill="#fff" stroke="#000000" stroke-width="1.1"/>
<polygon points="449.8,264.85 452.75,270.75 446.85,270.75" fill="#fff" stroke="#000000" stroke-width="1.1"/>
<polygon points="499.6,293.45 502.55,299.35 496.65,299.35" fill="#fff" stroke="#000000" stroke-width="1.1"/>
<polygon points="512.1,297.25 515.05,303.15 509.15,303.15" fill="#fff" stroke="#000000" stroke-width="1.1"/>
<polygon points="521.6,300.65 524.55,306.55 518.65,306.55" fill="#fff" stroke="#000000" stroke-width="1.1"/>
<polygon points="533.4,301.95 536.35,307.85 530.45,307.85" fill="#fff" stroke="#000000" stroke-width="1.1"/>
<polygon points="546.3,309.45 549.25,315.35 543.35,315.35" fill="#fff" stroke="#000000" stroke-width="1.1"/>
<polygon points="570.6,358.85 573.55,364.75 567.65,364.75" fill="#fff" stroke="#000000" stroke-width="1.1"/>
<line x1="580.5" y1="354" x2="580.5" y2="376" stroke="#c4c4c4" stroke-width="1" />
<line x1="580.5" y1="323.4" x2="580.5" y2="355" stroke="#000000" stroke-width="1.25" />
<line x1="586.8" y1="330.2" x2="586.8" y2="400.7" stroke="#000000" stroke-width="1.25" />
<polygon points="419,244.6 422.3,251.2 415.7,251.2" fill="#222" stroke="none" stroke-width="0.9"/>
<polygon points="425.1,247.3 428.4,253.9 421.8,253.9" fill="#222" stroke="none" stroke-width="0.9"/>
<polygon points="437.6,256.2 440.9,262.8 434.3,262.8" fill="#222" stroke="none" stroke-width="0.9"/>
<polygon points="443.7,260 447,266.6 440.4,266.6" fill="#222" stroke="none" stroke-width="0.9"/>
<polygon points="449.8,264.2 453.1,270.8 446.5,270.8" fill="#222" stroke="none" stroke-width="0.9"/>
<polygon points="456,268.7 459.3,275.3 452.7,275.3" fill="#222" stroke="none" stroke-width="0.9"/>
<polygon points="462.3,272.5 465.6,279.1 459,279.1" fill="#222" stroke="none" stroke-width="0.9"/>
<polygon points="468.5,276.3 471.8,282.9 465.2,282.9" fill="#222" stroke="none" stroke-width="0.9"/>
<polygon points="487.3,288.8 490.6,295.4 484,295.4" fill="#222" stroke="none" stroke-width="0.9"/>
<polygon points="493.1,294.5 496.4,301.1 489.8,301.1" fill="#222" stroke="none" stroke-width="0.9"/>
<polygon points="506.1,297.9 509.4,304.5 502.8,304.5" fill="#222" stroke="none" stroke-width="0.9"/>
<polygon points="518.6,300.1 521.9,306.7 515.3,306.7" fill="#222" stroke="none" stroke-width="0.9"/>
<polygon points="530.5,301.1 533.8,307.7 527.2,307.7" fill="#222" stroke="none" stroke-width="0.9"/>
<polygon points="555.5,320.2 558.8,326.8 552.2,326.8" fill="#222" stroke="none" stroke-width="0.9"/>
<polygon points="561.5,313.4 564.8,320 558.2,320" fill="#222" stroke="none" stroke-width="0.9"/>
<polygon points="567.8,330.5 571.1,337.1 564.5,337.1" fill="#222" stroke="none" stroke-width="0.9"/>
<polygon points="574.4,355.4 577.7,362 571.1,362" fill="#222" stroke="none" stroke-width="0.9"/>
<polygon points="580.5,337 583.8,343.6 577.2,343.6" fill="#222" stroke="none" stroke-width="0.9"/>
<polygon points="586.8,355.9 590.1,362.5 583.5,362.5" fill="#222" stroke="none" stroke-width="0.9"/>
<line x1="462.3" y1="285" x2="462.3" y2="303" stroke="#0000ff" stroke-width="1.3" />
<polygon points="331.3,199.98 332.41,203.16 335.77,203.22 333.09,205.26 334.06,208.48 331.3,206.56 328.54,208.48 329.51,205.26 326.83,203.22 330.19,203.16" fill="#0000ff" stroke="none" stroke-width="0.8"/>
<polygon points="338,203.28 339.11,206.46 342.47,206.52 339.79,208.56 340.76,211.78 338,209.86 335.24,211.78 336.21,208.56 333.53,206.52 336.89,206.46" fill="#0000ff" stroke="none" stroke-width="0.8"/>
<polygon points="344.3,207.58 345.41,210.76 348.77,210.82 346.09,212.86 347.06,216.08 344.3,214.16 341.54,216.08 342.51,212.86 339.83,210.82 343.19,210.76" fill="#0000ff" stroke="none" stroke-width="0.8"/>
<polygon points="350.6,210.28 351.71,213.46 355.07,213.52 352.39,215.56 353.36,218.78 350.6,216.86 347.84,218.78 348.81,215.56 346.13,213.52 349.49,213.46" fill="#0000ff" stroke="none" stroke-width="0.8"/>
<polygon points="356.8,212.48 357.91,215.66 361.27,215.72 358.59,217.76 359.56,220.98 356.8,219.06 354.04,220.98 355.01,217.76 352.33,215.72 355.69,215.66" fill="#0000ff" stroke="none" stroke-width="0.8"/>
<polygon points="363,216.28 364.11,219.46 367.47,219.52 364.79,221.56 365.76,224.78 363,222.86 360.24,224.78 361.21,221.56 358.53,219.52 361.89,219.46" fill="#0000ff" stroke="none" stroke-width="0.8"/>
<polygon points="369.3,218.48 370.41,221.66 373.77,221.72 371.09,223.76 372.06,226.98 369.3,225.06 366.54,226.98 367.51,223.76 364.83,221.72 368.19,221.66" fill="#0000ff" stroke="none" stroke-width="0.8"/>
<polygon points="375.5,220.58 376.61,223.76 379.97,223.82 377.29,225.86 378.26,229.08 375.5,227.16 372.74,229.08 373.71,225.86 371.03,223.82 374.39,223.76" fill="#0000ff" stroke="none" stroke-width="0.8"/>
<polygon points="381.5,223.48 382.61,226.66 385.97,226.72 383.29,228.76 384.26,231.98 381.5,230.06 378.74,231.98 379.71,228.76 377.03,226.72 380.39,226.66" fill="#0000ff" stroke="none" stroke-width="0.8"/>
<polygon points="387.8,226.68 388.91,229.86 392.27,229.92 389.59,231.96 390.56,235.18 387.8,233.26 385.04,235.18 386.01,231.96 383.33,229.92 386.69,229.86" fill="#0000ff" stroke="none" stroke-width="0.8"/>
<polygon points="394,229.98 395.11,233.16 398.47,233.22 395.79,235.26 396.76,238.48 394,236.56 391.24,238.48 392.21,235.26 389.53,233.22 392.89,233.16" fill="#0000ff" stroke="none" stroke-width="0.8"/>
<polygon points="400.2,234.28 401.31,237.46 404.67,237.52 401.99,239.56 402.96,242.78 400.2,240.86 397.44,242.78 398.41,239.56 395.73,237.52 399.09,237.46" fill="#0000ff" stroke="none" stroke-width="0.8"/>
<polygon points="406.5,235.98 407.61,239.16 410.97,239.22 408.29,241.26 409.26,244.48 406.5,242.56 403.74,244.48 404.71,241.26 402.03,239.22 405.39,239.16" fill="#0000ff" stroke="none" stroke-width="0.8"/>
<polygon points="412.7,240.28 413.81,243.46 417.17,243.52 414.49,245.56 415.46,248.78 412.7,246.86 409.94,248.78 410.91,245.56 408.23,243.52 411.59,243.46" fill="#0000ff" stroke="none" stroke-width="0.8"/>
<polygon points="419,246.28 420.11,249.46 423.47,249.52 420.79,251.56 421.76,254.78 419,252.86 416.24,254.78 417.21,251.56 414.53,249.52 417.89,249.46" fill="#0000ff" stroke="none" stroke-width="0.8"/>
<polygon points="424.9,248.18 426.01,251.36 429.37,251.42 426.69,253.46 427.66,256.68 424.9,254.76 422.14,256.68 423.11,253.46 420.43,251.42 423.79,251.36" fill="#0000ff" stroke="none" stroke-width="0.8"/>
<polygon points="434.1,248.68 435.21,251.86 438.57,251.92 435.89,253.96 436.86,257.18 434.1,255.26 431.34,257.18 432.31,253.96 429.63,251.92 432.99,251.86" fill="#0000ff" stroke="none" stroke-width="0.8"/>
<polygon points="447.7,263.88 448.81,267.06 452.17,267.12 449.49,269.16 450.46,272.38 447.7,270.46 444.94,272.38 445.91,269.16 443.23,267.12 446.59,267.06" fill="#0000ff" stroke="none" stroke-width="0.8"/>
<polygon points="462.3,287.18 463.41,290.36 466.77,290.42 464.09,292.46 465.06,295.68 462.3,293.76 459.54,295.68 460.51,292.46 457.83,290.42 461.19,290.36" fill="#0000ff" stroke="none" stroke-width="0.8"/>
<line x1="574" y1="369.6" x2="574" y2="396.2" stroke="#ff0000" stroke-width="1.3" />
<line x1="580.3" y1="383.4" x2="580.3" y2="441" stroke="#ff0000" stroke-width="1.3" />
<line x1="586.6" y1="402.2" x2="586.6" y2="445.5" stroke="#ff0000" stroke-width="1.3" />
<circle cx="425.1" cy="257.4" r="2.75" fill="#ff0000" stroke="none" stroke-width="0.8"/>
<circle cx="431.4" cy="260.3" r="2.75" fill="#ff0000" stroke="none" stroke-width="0.8"/>
<circle cx="437.6" cy="265.7" r="2.75" fill="#ff0000" stroke="none" stroke-width="0.8"/>
<circle cx="443.7" cy="269.3" r="2.75" fill="#ff0000" stroke="none" stroke-width="0.8"/>
<circle cx="449.8" cy="273.9" r="2.75" fill="#ff0000" stroke="none" stroke-width="0.8"/>
<circle cx="456" cy="279.6" r="2.75" fill="#ff0000" stroke="none" stroke-width="0.8"/>
<circle cx="462.3" cy="280.2" r="2.75" fill="#ff0000" stroke="none" stroke-width="0.8"/>
<circle cx="468.5" cy="286.1" r="2.75" fill="#ff0000" stroke="none" stroke-width="0.8"/>
<circle cx="474.8" cy="291" r="2.75" fill="#ff0000" stroke="none" stroke-width="0.8"/>
<circle cx="481" cy="293.2" r="2.75" fill="#ff0000" stroke="none" stroke-width="0.8"/>
<circle cx="487.4" cy="298.1" r="2.75" fill="#ff0000" stroke="none" stroke-width="0.8"/>
<circle cx="493.6" cy="302" r="2.75" fill="#ff0000" stroke="none" stroke-width="0.8"/>
<circle cx="499.9" cy="305.6" r="2.75" fill="#ff0000" stroke="none" stroke-width="0.8"/>
<circle cx="505.9" cy="306.2" r="2.75" fill="#ff0000" stroke="none" stroke-width="0.8"/>
<circle cx="512.1" cy="307.4" r="2.75" fill="#ff0000" stroke="none" stroke-width="0.8"/>
<circle cx="518.4" cy="307.8" r="2.75" fill="#ff0000" stroke="none" stroke-width="0.8"/>
<circle cx="524.4" cy="308.9" r="2.75" fill="#ff0000" stroke="none" stroke-width="0.8"/>
<circle cx="530.7" cy="311.9" r="2.75" fill="#ff0000" stroke="none" stroke-width="0.8"/>
<circle cx="536.7" cy="313.3" r="2.75" fill="#ff0000" stroke="none" stroke-width="0.8"/>
<circle cx="542.8" cy="317.8" r="2.75" fill="#ff0000" stroke="none" stroke-width="0.8"/>
<circle cx="549" cy="319.9" r="2.75" fill="#ff0000" stroke="none" stroke-width="0.8"/>
<circle cx="555.5" cy="332.4" r="2.75" fill="#ff0000" stroke="none" stroke-width="0.8"/>
<circle cx="561.5" cy="343.1" r="2.75" fill="#ff0000" stroke="none" stroke-width="0.8"/>
<circle cx="567.9" cy="350" r="2.75" fill="#ff0000" stroke="none" stroke-width="0.8"/>
<circle cx="574" cy="381.8" r="2.75" fill="#ff0000" stroke="none" stroke-width="0.8"/>
<circle cx="580.3" cy="396.2" r="2.75" fill="#ff0000" stroke="none" stroke-width="0.8"/>
<circle cx="586.6" cy="415" r="2.75" fill="#ff0000" stroke="none" stroke-width="0.8"/>
<line x1="551.05" y1="193.4" x2="551.85" y2="404" stroke="#000" stroke-width="2.75" />
<text x="142.93" y="465.9" font-size="14" text-anchor="middle" fill="#000">10<tspan font-size="9.8" dy="-6.7">13</tspan></text>
<text x="204.97" y="465.9" font-size="14" text-anchor="middle" fill="#000">10<tspan font-size="9.8" dy="-6.7">14</tspan></text>
<text x="267" y="465.9" font-size="14" text-anchor="middle" fill="#000">10<tspan font-size="9.8" dy="-6.7">15</tspan></text>
<text x="329.03" y="465.9" font-size="14" text-anchor="middle" fill="#000">10<tspan font-size="9.8" dy="-6.7">16</tspan></text>
<text x="391.07" y="465.9" font-size="14" text-anchor="middle" fill="#000">10<tspan font-size="9.8" dy="-6.7">17</tspan></text>
<text x="453.1" y="465.9" font-size="14" text-anchor="middle" fill="#000">10<tspan font-size="9.8" dy="-6.7">18</tspan></text>
<text x="515.13" y="465.9" font-size="14" text-anchor="middle" fill="#000">10<tspan font-size="9.8" dy="-6.7">19</tspan></text>
<text x="577.17" y="465.9" font-size="14" text-anchor="middle" fill="#000">10<tspan font-size="9.8" dy="-6.7">20</tspan></text>
<text x="639.2" y="465.9" font-size="14" text-anchor="middle" fill="#000">10<tspan font-size="9.8" dy="-6.7">21</tspan></text>
<text x="76.1" y="411.34" font-size="14" text-anchor="end" fill="#000">10<tspan font-size="9.8" dy="-6.7">13</tspan></text>
<text x="76.1" y="354.1" font-size="14" text-anchor="end" fill="#000">10<tspan font-size="9.8" dy="-6.7">14</tspan></text>
<text x="76.1" y="296.86" font-size="14" text-anchor="end" fill="#000">10<tspan font-size="9.8" dy="-6.7">15</tspan></text>
<text x="76.1" y="239.62" font-size="14" text-anchor="end" fill="#000">10<tspan font-size="9.8" dy="-6.7">16</tspan></text>
<text x="76.1" y="182.38" font-size="14" text-anchor="end" fill="#000">10<tspan font-size="9.8" dy="-6.7">17</tspan></text>
<text x="76.1" y="125.14" font-size="14" text-anchor="end" fill="#000">10<tspan font-size="9.8" dy="-6.7">18</tspan></text>
<text x="76.1" y="67.9" font-size="14" text-anchor="end" fill="#000">10<tspan font-size="9.8" dy="-6.7">19</tspan></text>
<text x="126.13" y="52.9" font-size="14" text-anchor="middle" fill="#000">10<tspan font-size="9.8" dy="-6.7">2</tspan></text>
<text x="250.2" y="52.9" font-size="14" text-anchor="middle" fill="#000">10<tspan font-size="9.8" dy="-6.7">3</tspan></text>
<text x="374.27" y="52.9" font-size="14" text-anchor="middle" fill="#000">10<tspan font-size="9.8" dy="-6.7">4</tspan></text>
<text x="498.33" y="52.9" font-size="14" text-anchor="middle" fill="#000">10<tspan font-size="9.8" dy="-6.7">5</tspan></text>
<text x="622.4" y="52.9" font-size="14" text-anchor="middle" fill="#000">10<tspan font-size="9.8" dy="-6.7">6</tspan></text>
<text x="225.8" y="29.6" font-size="15.8" text-anchor="start" fill="#000" textLength="166.2" lengthAdjust="spacingAndGlyphs">Equivalent c.m. energy</text>
<polygon points="404.0,21.4 406.0,20.6 408.9,30.3 406.9,31.0" fill="#000"/>
<path d="M408.0 30.6 L409.3 16.5 L419.0 16.5" fill="none" stroke="#9a9a9a" stroke-width="0.6"/>
<text x="410.3" y="29.6" font-size="16.4" text-anchor="start" fill="#000" >s</text>
<text x="418.5" y="34.9" font-size="11.6" text-anchor="start" fill="#000" textLength="13.6" lengthAdjust="spacingAndGlyphs">pp</text>
<text x="449.4" y="29.6" font-size="16" text-anchor="start" fill="#000" textLength="44.4" lengthAdjust="spacingAndGlyphs">(GeV)</text>
<text x="472.1" y="484.6" font-size="16" text-anchor="start" fill="#000" textLength="52.0" lengthAdjust="spacingAndGlyphs">Energy</text>
<text x="640.2" y="484.6" font-size="16" text-anchor="end" fill="#000" textLength="88.6" lengthAdjust="spacingAndGlyphs">(eV/particle)</text>
<text transform="translate(34.6 341.3) rotate(-90) scale(1 1)" font-size="16.2" fill="#000" textLength="73.6" lengthAdjust="spacingAndGlyphs">Scaled flux</text>
<text transform="translate(34.5 257.4) rotate(-90) scale(0.82 1)" font-size="16" fill="#000" >E</text>
<text transform="translate(25.6 242.9) rotate(-90) scale(1 1)" font-size="11.2" fill="#000" >2.5</text>
<text transform="translate(34.5 223.6) rotate(-90) scale(1.05 1)" font-size="16" fill="#000" >J(E)</text>
<text transform="translate(34.5 183.2) rotate(-90) scale(1.05 1)" font-size="16" fill="#000" >(</text>
<text transform="translate(34.5 174.8) rotate(-90) scale(1.05 1)" font-size="16" fill="#000" >m</text>
<text transform="translate(25.6 161.8) rotate(-90) scale(1 1)" font-size="11.2" fill="#000" >-2</text>
<text transform="translate(34.5 147.4) rotate(-90) scale(1.1 1)" font-size="16" fill="#000" >s</text>
<text transform="translate(25.6 141) rotate(-90) scale(1 1)" font-size="10.8" fill="#000" >-1</text>
<text transform="translate(34.5 126.7) rotate(-90) scale(1.1 1)" font-size="16" fill="#000" >sr</text>
<text transform="translate(25.6 112.9) rotate(-90) scale(1 1)" font-size="10.8" fill="#000" >-1</text>
<text transform="translate(34.5 103.2) rotate(-90) scale(1.12 1)" font-size="16" fill="#000" >e</text>
<text transform="translate(34.5 94) rotate(-90) scale(1.1 1)" font-size="16" fill="#000" >V</text>
<text transform="translate(25.6 82.8) rotate(-90) scale(1 1)" font-size="11.4" fill="#000" >1.5</text>
<text transform="translate(34.5 65.5) rotate(-90) scale(1.05 1)" font-size="16" fill="#000" >)</text>
<line x1="124.2" y1="74" x2="124.2" y2="90.8" stroke="#222" stroke-width="1" />
<polygon points="124.2,64 127.2,76.6 121.2,76.6" fill="#72828e" stroke="#111" stroke-width="0.9" stroke-linejoin="miter"/>
<line x1="167.4" y1="74" x2="167.4" y2="90.8" stroke="#222" stroke-width="1" />
<polygon points="167.4,64 170.4,76.6 164.4,76.6" fill="#72828e" stroke="#111" stroke-width="0.9" stroke-linejoin="miter"/>
<line x1="286.5" y1="74" x2="286.5" y2="90.8" stroke="#222" stroke-width="1" />
<polygon points="286.5,64 289.5,76.6 283.5,76.6" fill="#72828e" stroke="#111" stroke-width="0.9" stroke-linejoin="miter"/>
<line x1="355" y1="74" x2="355" y2="90.8" stroke="#222" stroke-width="1" />
<polygon points="355,64 358,76.6 352,76.6" fill="#72828e" stroke="#111" stroke-width="0.9" stroke-linejoin="miter"/>
<line x1="392.4" y1="74" x2="392.4" y2="90.8" stroke="#222" stroke-width="1" />
<polygon points="392.4,64 395.4,76.6 389.4,76.6" fill="#72828e" stroke="#111" stroke-width="0.9" stroke-linejoin="miter"/>
<text x="146.8" y="104.9" font-size="12" text-anchor="middle" fill="#1a1a1a" >RHIC (p-p)</text>
<text x="146.9" y="119.8" font-size="12" text-anchor="middle" fill="#1a1a1a" >HERA (γ-p)</text>
<text x="285.6" y="105" font-size="12" text-anchor="middle" fill="#1a1a1a" >Tevatron (p-p)</text>
<text x="374.4" y="105.6" font-size="12.3" text-anchor="middle" fill="#1a1a1a" >7 TeV 14 TeV</text>
<text x="372.8" y="122" font-size="12" text-anchor="middle" fill="#1a1a1a" >LHC (p-p)</text>
<polygon points="431.4,87.4 434.6,81 428.2,81" fill="#000000" stroke="none" stroke-width="0.9"/>
<polygon points="431.4,97.4 434.6,103.8 428.2,103.8" fill="#000000" stroke="none" stroke-width="0.9"/>
<polygon points="431.4,113.75 434.55,120.05 428.25,120.05" fill="#fff" stroke="#000000" stroke-width="1.2"/>
<text x="455" y="89" font-size="12.65" text-anchor="start" fill="#1a1a1a" >HiRes-MIA</text>
<text x="455" y="105.3" font-size="12.65" text-anchor="start" fill="#1a1a1a" >HiRes I</text>
<text x="455" y="121.7" font-size="12.65" text-anchor="start" fill="#1a1a1a" >HiRes II</text>
<text x="455" y="137" font-size="12.65" text-anchor="start" fill="#1a1a1a" >Auger ICRC 2013</text>
<text x="455" y="153.6" font-size="12.65" text-anchor="start" fill="#1a1a1a" >TA SD 2013</text>
<polygon points="556.8,81.71 557.72,84.35 560.51,84.41 558.28,86.09 559.09,88.77 556.8,87.17 554.51,88.77 555.32,86.09 553.09,84.41 555.88,84.35" fill="#fff" stroke="#555" stroke-width="1"/>
<polygon points="555.82,100.3 557.78,100.3 557.78,102.32 559.8,102.32 559.8,104.28 557.78,104.28 557.78,106.3 555.82,106.3 555.82,104.28 553.8,104.28 553.8,102.32 555.82,102.32" fill="#fff" stroke="#555" stroke-width="1.1"/>
<polygon points="556.8,117.7 558.8,120.6 556.8,123.5 554.8,120.6" fill="#fff" stroke="#555" stroke-width="1"/>
<text x="573.4" y="89.7" font-size="11.1" text-anchor="start" fill="#1a1a1a" >ATIC</text>
<text x="573.4" y="107" font-size="11.1" text-anchor="start" fill="#1a1a1a" >PROTON</text>
<text x="573.4" y="124.5" font-size="11.1" text-anchor="start" fill="#1a1a1a" >RUNJOB</text>
<rect x="118.7" y="350.7" width="5.2" height="5.2" fill="#0000ff"/>
<polygon points="121.2,366.08 122.31,369.26 125.67,369.32 122.99,371.36 123.96,374.58 121.2,372.66 118.44,374.58 119.41,371.36 116.73,369.32 120.09,369.26" fill="#0000ff" stroke="none" stroke-width="0.8"/>
<polygon points="121.3,384.74 122.31,387.65 125.39,387.72 122.94,389.58 123.83,392.52 121.3,390.76 118.77,392.52 119.66,389.58 117.21,387.72 120.29,387.65" fill="#7a7a7a" stroke="none" stroke-width="0.8"/>
<rect x="118.9" y="404.2" width="5" height="5" fill="#a0a0a0"/>
<text x="144.3" y="357.3" font-size="11.9" text-anchor="start" fill="#1a1a1a" textLength="129.0" lengthAdjust="spacingAndGlyphs">KASCADE (SIBYLL 2.1)</text>
<text x="144.3" y="375.1" font-size="11.9" text-anchor="start" fill="#1a1a1a" textLength="130.0" lengthAdjust="spacingAndGlyphs">KASCADE-Grande 2012</text>
<text x="144.2" y="393" font-size="11.9" text-anchor="start" fill="#1a1a1a" textLength="123.9" lengthAdjust="spacingAndGlyphs">Tibet ASg (SIBYLL 2.1)</text>
<text x="144.5" y="410.9" font-size="11.9" text-anchor="start" fill="#1a1a1a" textLength="99.0" lengthAdjust="spacingAndGlyphs">IceTop ICRC 2013</text>
<text x="570.3" y="265.3" font-size="14.6" text-anchor="start" fill="#1a1a1a" >==&gt;</text>
<text x="570.6" y="280.8" font-size="13.8" text-anchor="start" fill="#1a1a1a" textLength="61.4" lengthAdjust="spacingAndGlyphs">JEM-EUSO</text>
</svg>
</body></html>
